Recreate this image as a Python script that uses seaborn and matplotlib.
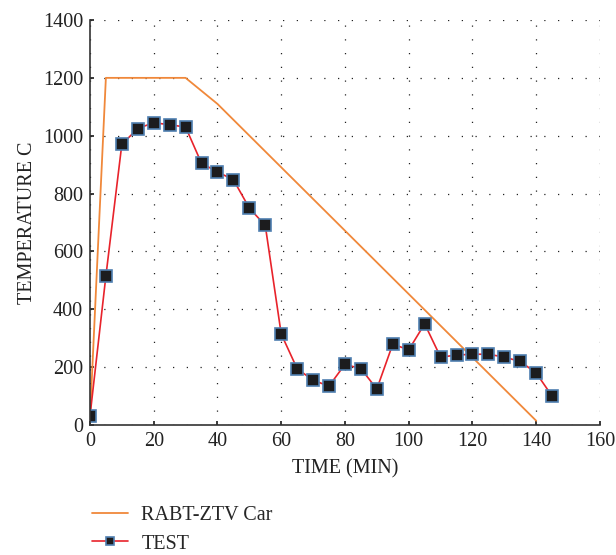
import matplotlib.pyplot as plt
import pandas as pd
import seaborn as sns

# RABT-ZTV (car) standard fire curve
rabt_time = [0, 5, 30, 40, 140]
rabt_temp = [20, 1200, 1200, 1110, 15]

# measured test curve
test_time = list(range(0, 150, 5))
test_temp = [30, 515, 970, 1025, 1045, 1038, 1030, 905, 875, 848,
             750, 690, 315, 195, 155, 135, 210, 195, 125, 280,
             260, 350, 235, 242, 245, 245, 235, 220, 180, 100]

sns.set_theme(style="white")
plt.rcParams["font.family"] = ["Liberation Serif", "DejaVu Serif"]

rabt = pd.DataFrame({"time": rabt_time, "temp": rabt_temp})
test = pd.DataFrame({"time": test_time, "temp": test_temp})

fig = plt.figure(figsize=(6.16, 5.55), dpi=100)
ax = fig.add_axes([0.146, 0.234, 0.828, 0.730])

sns.lineplot(data=rabt, x="time", y="temp", ax=ax, color="#f0883a",
             linewidth=1.3, label="RABT-ZTV Car")
sns.lineplot(data=test, x="time", y="temp", ax=ax, color="#e8232b",
             linewidth=1.2, marker="s", markersize=9,
             markerfacecolor="#1c1c1e", markeredgecolor="#4f7fb0",
             markeredgewidth=1.2, label="TEST")

ax.set_xlim(0, 160)
ax.set_ylim(0, 1400)
ax.set_xticks(range(0, 161, 20))
ax.set_yticks(range(0, 1401, 200))
ax.grid(True, color="#222222", linestyle=(0, (1, 10)), linewidth=0.9)

for side in ["top", "right"]:
    ax.spines[side].set_visible(False)
for side in ["left", "bottom"]:
    ax.spines[side].set_color("#333333")
    ax.spines[side].set_linewidth(1.2)

ax.tick_params(axis="both", labelsize=14.5, colors="#222222", length=3,
               direction="in", left=True, bottom=True, pad=5)
ax.set_xlabel("TIME (MIN)", fontsize=14.5, color="#222222", labelpad=6)
ax.set_ylabel("TEMPERATURE C", fontsize=14.5, color="#222222")

leg = ax.legend(loc="lower left", bbox_to_anchor=(0.12, -0.03),
                bbox_transform=fig.transFigure, frameon=False,
                fontsize=14.5, handlelength=1.8, handletextpad=0.65,
                labelspacing=0.45, markerscale=0.7)

fig.savefig("out.png", dpi=100)
